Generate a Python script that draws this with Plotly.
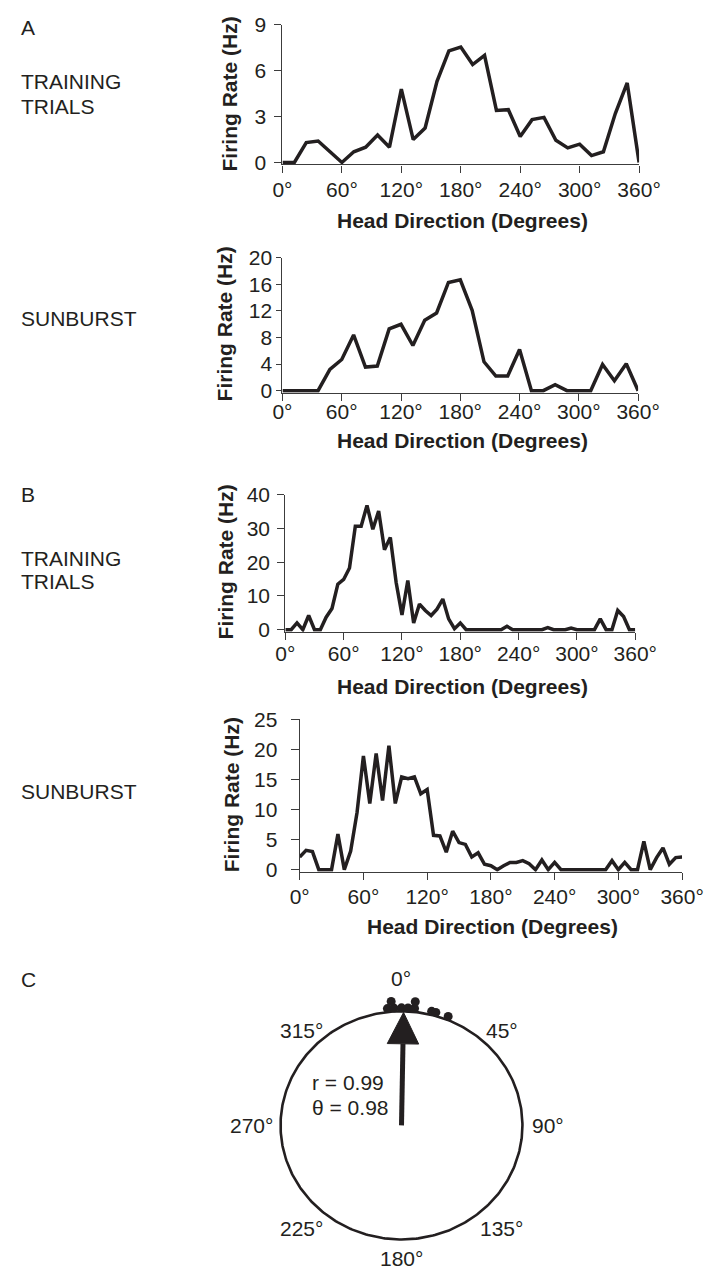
import numpy as np
import plotly.graph_objects as go

W, H = 728, 1277
INK = "#231f20"
AXIS = "#3c3c3c"
FONT = "Liberation Sans, Arial, Helvetica, sans-serif"
FS = 21

# ---- Panel A: first head-direction cell, 12-degree bins ----
deg_a = list(range(0, 361, 12))
a_training = [0, 0, 1.3, 1.4, 0.7, 0, 0.7, 1.0, 1.8, 1.0, 4.8, 1.5, 2.25, 5.3,
              7.3, 7.55, 6.4, 7.0, 3.4, 3.45, 1.7, 2.8, 2.95, 1.45, 0.95, 1.2,
              0.45, 0.7, 3.2, 5.2, 0]
a_sunburst = [0, 0, 0, 0, 3.2, 4.7, 8.4, 3.55, 3.7, 9.3, 10.0, 6.8, 10.6, 11.7,
              16.3, 16.7, 12.1, 4.35, 2.2, 2.2, 6.2, 0, 0, 0.9, 0, 0, 0, 3.95,
              1.5, 4.05, 0]

# ---- Panel B: second head-direction cell, 6-degree bins ----
deg_b = list(range(0, 361, 6))
b_training = [0, 0, 2.0, 0, 4.2, 0, 0, 3.7, 6.3, 13.5, 14.9, 18.3, 30.7, 30.7,
              36.9, 29.8, 35.2, 23.7, 27.4, 14.0, 4.4, 14.6, 2.0, 7.6, 5.7, 4.2,
              6.1, 9.1, 3.2, 0.3, 2.0, 0, 0, 0, 0, 0, 0, 0, 1.0, 0, 0, 0, 0, 0,
              0, 0.6, 0, 0, 0, 0.5, 0, 0, 0, 0, 3.2, 0, 0, 5.7, 3.9, 0, 0]
b_sunburst = [2.1, 3.2, 3.0, 0, 0, 0, 5.9, 0, 3.1, 9.5, 18.9, 11.0, 19.3, 11.5,
              20.6, 11.0, 15.4, 15.1, 15.4, 12.6, 13.3, 5.7, 5.6, 2.9, 6.4, 4.5,
              4.2, 2.1, 2.8, 0.9, 0.65, 0, 0.65, 1.2, 1.2, 1.5, 1.0, 0, 1.6, 0,
              1.2, 0, 0, 0, 0, 0, 0, 0, 0, 1.5, 0, 1.2, 0, 0, 4.7, 0, 2.0, 3.6,
              0.9, 2.0, 2.1]

# ---- Panel C: preferred directions (deg) of the recorded cells ----
dirs_on_circle = [-6.5, -3.5, 0, 3, 6, 14, 16, 22]
dirs_stacked = [-4.5, 6]
mean_r = 0.99
mean_theta = 0.98
compass_deg = [0, 45, 90, 135, 180, 225, 270, 315]

x_ticks = [0, 60, 120, 180, 240, 300, 360]
x_ticktext = [f"{v}°" for v in x_ticks]

# Pixel geometry of each line panel
panels = [
    dict(deg=deg_a, vals=a_training, x0=285, x1=658, ytop=13, yzero=153,
         ymax=9, dtick=3, xlab_so=-1, ylab_so=4, ytlen=7, title_y=212, ytitle_x=230),
    dict(deg=deg_a, vals=a_sunburst, x0=285, x1=657, ytop=250, yzero=385,
         ymax=20, dtick=4, xlab_so=-7, ylab_so=0, ytlen=5, title_y=436, ytitle_x=224),
    dict(deg=deg_b, vals=b_training, x0=288, x1=654, ytop=491, yzero=628,
         ymax=40, dtick=10, xlab_so=-4, ylab_so=3, ytlen=7, title_y=686, ytitle_x=225),
    dict(deg=deg_b, vals=b_sunburst, x0=303, x1=703, ytop=719, yzero=872,
         ymax=25, dtick=5, xlab_so=-1, ylab_so=9, ytlen=8, title_y=930, ytitle_x=232),
]

fig = go.Figure()
layout = dict(
    width=W, height=H, margin=dict(l=0, r=0, t=0, b=0),
    paper_bgcolor="white", plot_bgcolor="white", showlegend=False,
    font=dict(family=FONT, size=FS, color=INK),
)
annotations = []
PAD = 2  # px below zero so the thick trace is not clipped

for i, p in enumerate(panels, start=1):
    sfx = "" if i == 1 else str(i)
    fig.add_trace(go.Scatter(
        x=p["deg"], y=p["vals"], mode="lines", xaxis=f"x{sfx}", yaxis=f"y{sfx}",
        line=dict(color=INK, width=3.5), hoverinfo="skip"))
    span = p["yzero"] - p["ytop"]
    ylo = -PAD * p["ymax"] / span
    layout[f"xaxis{sfx}"] = dict(
        domain=[p["x0"] / W, p["x1"] / W], range=[0, 360], anchor=f"y{sfx}",
        tickvals=x_ticks, ticktext=x_ticktext, ticks="outside", ticklen=7,
        tickwidth=1.3, tickcolor=AXIS, showline=True, linecolor=AXIS,
        linewidth=1.3, showgrid=False, zeroline=False,
        ticklabelstandoff=p["xlab_so"], tickfont=dict(size=FS, color=INK))
    layout[f"yaxis{sfx}"] = dict(
        domain=[1 - (p["yzero"] + PAD) / H, 1 - p["ytop"] / H],
        range=[ylo, p["ymax"]], anchor=f"x{sfx}",
        tickmode="linear", tick0=0, dtick=p["dtick"], ticks="outside",
        ticklen=p["ytlen"], tickwidth=1.3, tickcolor=AXIS, showline=True,
        linecolor=AXIS, linewidth=1.3, showgrid=False, zeroline=False,
        ticklabelstandoff=p["ylab_so"], tickfont=dict(size=FS, color=INK))
    annotations.append(dict(
        text="<b>Head Direction (Degrees)</b>", xref="paper", yref="paper",
        x=(p["x0"] + p["x1"]) / 2 / W + 2 / W, y=1 - p["title_y"] / H,
        xanchor="center", yanchor="middle", showarrow=False,
        font=dict(size=FS, color=INK)))
    annotations.append(dict(
        text="<b>Firing Rate (Hz)</b>", xref="paper", yref="paper",
        x=p["ytitle_x"] / W, y=1 - (p["ytop"] + p["yzero"]) / 2 / H,
        xanchor="center", yanchor="middle", textangle=-90, showarrow=False,
        font=dict(size=FS, color=INK)))

# Row labels on the left
for txt, ypx in [("A", 16), ("TRAINING", 71), ("TRIALS", 96), ("SUNBURST", 312),
                 ("B", 491), ("TRAINING", 556), ("TRIALS", 579),
                 ("SUNBURST", 793), ("C", 984)]:
    annotations.append(dict(
        text=txt, xref="paper", yref="paper", x=9 / W, y=1 - ypx / H,
        xanchor="left", yanchor="middle", showarrow=False,
        font=dict(size=FS, color=INK)))

# ---- Panel C: circular plot drawn on a cartesian pair (unit circle) ----
cx, cy, rx, ry = 409.5, 1132, 126.5, 116
XR, YLO, YHI = 1.6, 1.25, 1.35
layout["xaxis5"] = dict(domain=[(cx - rx * XR) / W, (cx + rx * XR) / W],
                        range=[-XR, XR], visible=False, anchor="y5")
layout["yaxis5"] = dict(domain=[max(0, 1 - (cy + ry * YLO) / H), 1 - (cy - ry * YHI) / H],
                        range=[-YLO, YHI], visible=False, anchor="x5")

t = np.linspace(0, 2 * np.pi, 361)
fig.add_trace(go.Scatter(x=np.sin(t), y=np.cos(t), mode="lines", xaxis="x5",
                         yaxis="y5", line=dict(color=INK, width=2.6),
                         hoverinfo="skip"))

# Cell directions: first ring on the circle, coincident cells stacked outside
for dirs, rr in [(dirs_on_circle, 1.03), (dirs_stacked, 1.09)]:
    th = np.radians(dirs)
    fig.add_trace(go.Scatter(x=rr * np.sin(th), y=rr * np.cos(th), mode="markers",
                             xaxis="x5", yaxis="y5", cliponaxis=False,
                             marker=dict(color=INK, size=9, line=dict(width=0)),
                             hoverinfo="skip"))

# Mean vector arrow
th = np.radians(mean_theta)
ux, uy = np.sin(th), np.cos(th)
head_len, head_half = 0.275, 0.13
tip = np.array([mean_r * ux, mean_r * uy])
base = tip - head_len * np.array([ux, uy])
perp = np.array([uy, -ux])
fig.add_trace(go.Scatter(x=[0, base[0]], y=[0, base[1]], mode="lines",
                         xaxis="x5", yaxis="y5", line=dict(color=INK, width=5),
                         hoverinfo="skip"))
tri = np.array([tip, base + head_half * perp, base - head_half * perp, tip])
fig.add_trace(go.Scatter(x=tri[:, 0], y=tri[:, 1], mode="lines", fill="toself",
                         fillcolor=INK, xaxis="x5", yaxis="y5",
                         line=dict(color=INK, width=1), hoverinfo="skip"))

annotations.append(dict(text=f"r = {mean_r:.2f}", xref="x5", yref="y5",
                        x=-0.76, y=0.38, xanchor="left", yanchor="middle",
                        showarrow=False, font=dict(size=FS, color=INK)))
annotations.append(dict(text=f"θ = {mean_theta:.2f}", xref="x5", yref="y5",
                        x=-0.76, y=0.16, xanchor="left", yanchor="middle",
                        showarrow=False, font=dict(size=FS, color=INK)))

# Compass labels around the circle, nudged clear of the ring and markers
LAB_R = 1.17
label_nudge = {0: (0, 13), 90: (5, 0), 135: (0, -9), 225: (0, -9), 270: (-8, 0)}
for a in compass_deg:
    ar = np.radians(a)
    dx, dy = label_nudge.get(a, (0, 0))
    annotations.append(dict(
        text=f"{a}°", xref="x5", yref="y5", x=LAB_R * np.sin(ar),
        y=LAB_R * np.cos(ar), xanchor="center", yanchor="middle",
        xshift=dx, yshift=dy, showarrow=False,
        font=dict(size=FS, color=INK)))

layout["annotations"] = annotations
fig.update_layout(**layout)
fig.write_html("out.html")
